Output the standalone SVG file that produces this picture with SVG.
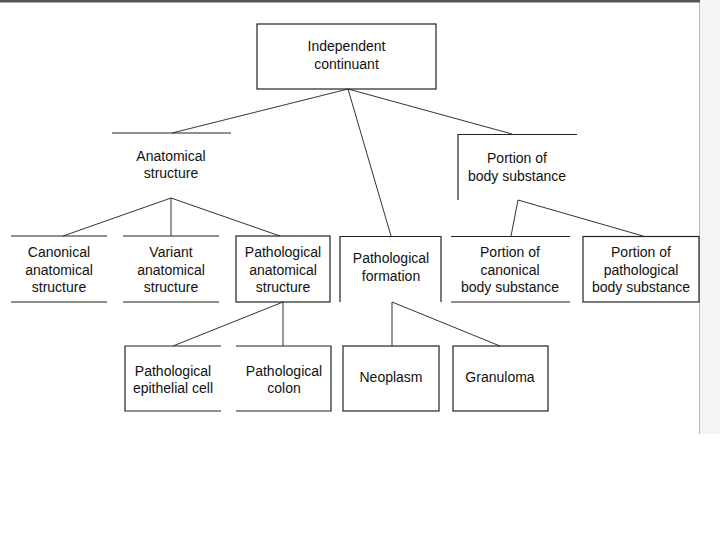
<svg xmlns="http://www.w3.org/2000/svg" width="720" height="540" viewBox="0 0 720 540">
<style>
text{font-family:"Liberation Sans",Arial,sans-serif;font-size:14px;fill:#111;text-anchor:middle}
.b{fill:none;stroke:#222;stroke-width:1.2}
.c{fill:none;stroke:#333;stroke-width:1}
</style>
<rect x="0" y="0" width="720" height="540" fill="#fff"/>
<rect x="700" y="0" width="20" height="434" fill="#f4f4f4"/>
<line x1="699.5" y1="0" x2="699.5" y2="434" stroke="#bbb" stroke-width="1"/>
<rect x="0" y="0" width="700" height="2.5" fill="#555"/>
<g id="connectors">
<line class="c" x1="348" y1="89" x2="172" y2="133"/>
<line class="c" x1="348" y1="89" x2="391" y2="236"/>
<line class="c" x1="348" y1="89" x2="512" y2="134"/>
<line class="c" x1="171" y1="198" x2="63" y2="236"/>
<line class="c" x1="171" y1="198" x2="171" y2="236"/>
<line class="c" x1="171" y1="198" x2="280" y2="236"/>
<line class="c" x1="518" y1="200" x2="511" y2="236"/>
<line class="c" x1="518" y1="200" x2="643" y2="236"/>
<line class="c" x1="283" y1="302" x2="173" y2="346"/>
<line class="c" x1="283" y1="302" x2="283" y2="346"/>
<line class="c" x1="392" y1="302" x2="392" y2="346"/>
<line class="c" x1="392" y1="302" x2="500" y2="346"/>
</g>
<g id="independent-continuant">
<rect class="b" x="257" y="24" width="179" height="65"/>
<text x="346.5" y="51">Independent</text>
<text x="346.5" y="69">continuant</text>
</g>
<g id="anatomical-structure">
<line class="b" x1="112" y1="133" x2="231" y2="133"/>
<text x="171" y="161">Anatomical</text>
<text x="171" y="178">structure</text>
</g>
<g id="portion-of-body-substance">
<polyline class="b" points="458,200 458,134.5 577,134.5"/>
<text x="517" y="163">Portion of</text>
<text x="517" y="181">body substance</text>
</g>
<g id="canonical-anatomical-structure">
<line class="b" x1="11" y1="236" x2="107" y2="236"/>
<line class="b" x1="11" y1="302" x2="107" y2="302"/>
<text x="59" y="257">Canonical</text>
<text x="59" y="275">anatomical</text>
<text x="59" y="292">structure</text>
</g>
<g id="variant-anatomical-structure">
<line class="b" x1="123" y1="236" x2="219" y2="236"/>
<line class="b" x1="123" y1="302" x2="219" y2="302"/>
<text x="171" y="257">Variant</text>
<text x="171" y="275">anatomical</text>
<text x="171" y="292">structure</text>
</g>
<g id="pathological-anatomical-structure">
<rect class="b" x="236" y="236" width="94" height="66"/>
<text x="283" y="257">Pathological</text>
<text x="283" y="275">anatomical</text>
<text x="283" y="292">structure</text>
</g>
<g id="pathological-formation">
<polyline class="b" points="340,302 340,236.5 441,236.5 441,302"/>
<text x="391" y="263">Pathological</text>
<text x="391" y="281">formation</text>
</g>
<g id="portion-of-canonical-body-substance">
<line class="b" x1="451" y1="236.5" x2="570" y2="236.5"/>
<line class="b" x1="451" y1="302" x2="570" y2="302"/>
<text x="510" y="257">Portion of</text>
<text x="510" y="275">canonical</text>
<text x="510" y="292">body substance</text>
</g>
<g id="portion-of-pathological-body-substance">
<rect class="b" x="583" y="236.5" width="116" height="65.5"/>
<text x="641" y="257">Portion of</text>
<text x="641" y="275">pathological</text>
<text x="641" y="292">body substance</text>
</g>
<g id="pathological-epithelial-cell">
<polyline class="b" points="221,346 125,346 125,411 221,411"/>
<text x="173" y="376">Pathological</text>
<text x="173" y="393">epithelial cell</text>
</g>
<g id="pathological-colon">
<polyline class="b" points="236,346 331,346 331,411 236,411"/>
<text x="284" y="376">Pathological</text>
<text x="284" y="393">colon</text>
</g>
<g id="neoplasm">
<rect class="b" x="343" y="346" width="96" height="65"/>
<text x="391" y="382">Neoplasm</text>
</g>
<g id="granuloma">
<rect class="b" x="453" y="346" width="95" height="65"/>
<text x="500" y="382">Granuloma</text>
</g>
</svg>
